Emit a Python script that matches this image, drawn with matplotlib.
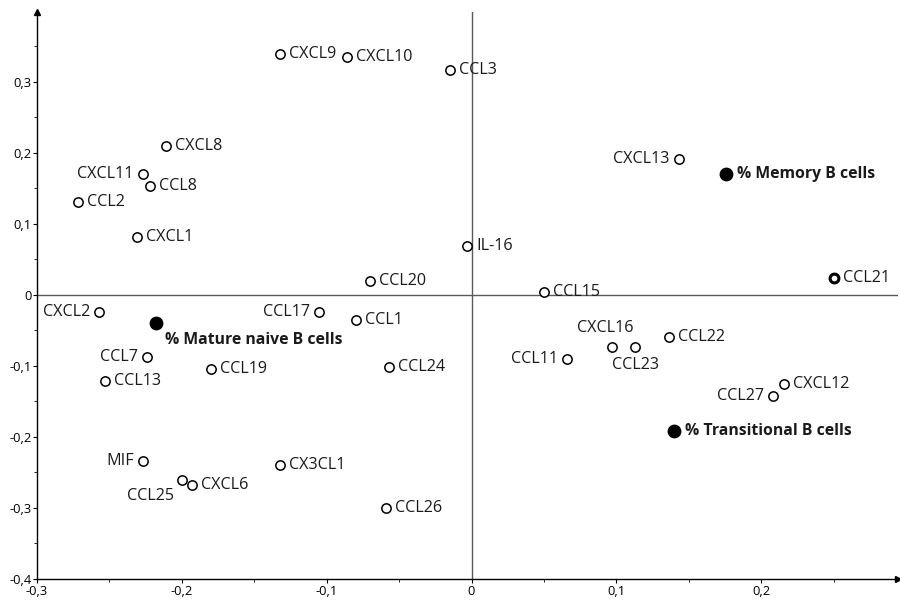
import numpy as np
import matplotlib
matplotlib.use("Agg")
import matplotlib.pyplot as plt
from matplotlib.ticker import MultipleLocator, FuncFormatter

plt.rcParams['font.family'] = ['Open Sans', 'DejaVu Sans']

# chemokines (open circles)
names = ['CXCL9', 'CXCL10', 'CCL3', 'CXCL8', 'CXCL11', 'CCL8', 'CCL2', 'CXCL1',
         'CCL20', 'IL-16', 'CXCL13', 'CCL21', 'CCL15', 'CXCL2', 'CCL17', 'CCL1',
         'CCL7', 'CCL13', 'CCL19', 'CCL24', 'CCL11', 'CXCL16', 'CCL23', 'CCL22',
         'CXCL12', 'CCL27', 'MIF', 'CCL25', 'CXCL6', 'CX3CL1', 'CCL26']
xs = [-0.132, -0.086, -0.015, -0.211, -0.227, -0.222, -0.272, -0.231,
      -0.070, -0.003, 0.143, 0.250, 0.050, -0.257, -0.105, -0.080,
      -0.224, -0.253, -0.180, -0.057, 0.066, 0.097, 0.113, 0.136,
      0.216, 0.208, -0.227, -0.200, -0.193, -0.132, -0.059]
ys = [0.339, 0.335, 0.316, 0.209, 0.170, 0.153, 0.131, 0.082,
      0.019, 0.069, 0.191, 0.023, 0.004, -0.024, -0.024, -0.036,
      -0.087, -0.122, -0.104, -0.101, -0.090, -0.073, -0.073, -0.060,
      -0.125, -0.143, -0.234, -0.261, -0.268, -0.240, -0.300]

# B cell populations (filled circles)
cell_names = ['% Memory B cells', '% Mature naive B cells', '% Transitional B cells']
cell_x = [0.176, -0.218, 0.140]
cell_y = [0.170, -0.039, -0.192]

# label placement: offset in pixels + alignment (default = right of the point)
place = {
    'CXCL11': (-9, 0, 'right', 'center'),
    'CXCL2': (-9, 0, 'right', 'center'),
    'CCL17': (-9, 0, 'right', 'center'),
    'CCL7': (-9, 0, 'right', 'center'),
    'MIF': (-9, 0, 'right', 'center'),
    'CXCL13': (-9, 0, 'right', 'center'),
    'CCL11': (-9, 0, 'right', 'center'),
    'CCL27': (-9, 0, 'right', 'center'),
    'CXCL16': (-7, 19, 'center', 'center'),
    'CCL23': (0, -18, 'center', 'center'),
    'CCL25': (-8, -16, 'right', 'center'),
    '% Mature naive B cells': (9, -17, 'left', 'center'),
}

fig = plt.figure(figsize=(9, 6), dpi=100)
ax = fig.add_axes([37 / 900, 21 / 600, 861 / 900, 567 / 600])

ax.set_xlim(-0.3, 0.2944)
ax.set_ylim(-0.4, 0.398)

# axes through the origin
ax.axhline(0, color='0.35', lw=1, zorder=1)
ax.axvline(0, color='0.35', lw=1, zorder=1)

ax.scatter(xs, ys, s=45, facecolor='white', edgecolor='black', linewidths=1.1, zorder=3)
# CCL21 drawn with a thicker ring
i21 = names.index('CCL21')
ax.scatter([xs[i21]], [ys[i21]], s=40, facecolor='white', edgecolor='black', linewidths=2.2, zorder=4)
ax.scatter(cell_x, cell_y, s=80, color='black', zorder=3)

for n, x, y in zip(names, xs, ys):
    dx, dy, ha, va = place.get(n, (9, 0, 'left', 'center'))
    ax.annotate(n, (x, y), xytext=(dx, dy), textcoords='offset pixels',
                ha=ha, va=va, fontsize=11.6, color='#1a1a1a')

for n, x, y in zip(cell_names, cell_x, cell_y):
    dx, dy, ha, va = place.get(n, (11, 0, 'left', 'center'))
    ax.annotate(n, (x, y), xytext=(dx, dy), textcoords='offset pixels',
                ha=ha, va=va, fontsize=11.3, fontweight='bold', color='#1a1a1a')

# spines: only left and bottom, with arrow heads
for s in ['top', 'right']:
    ax.spines[s].set_visible(False)
ax.spines['left'].set_linewidth(1)
ax.spines['bottom'].set_linewidth(1)
ax.plot(0, 1, '^k', ms=5, transform=ax.transAxes, clip_on=False)
ax.plot(1, 0, '>k', ms=5, transform=ax.transAxes, clip_on=False)

ax.xaxis.set_major_locator(MultipleLocator(0.1))
ax.xaxis.set_minor_locator(MultipleLocator(0.05))
ax.yaxis.set_major_locator(MultipleLocator(0.1))
ax.yaxis.set_minor_locator(MultipleLocator(0.05))


def virgula(v, pos):
    if abs(v) < 1e-9:
        return '0'
    return ('%.1f' % v).replace('.', ',')


ax.xaxis.set_major_formatter(FuncFormatter(virgula))
ax.yaxis.set_major_formatter(FuncFormatter(virgula))
ax.tick_params(which='major', length=3, labelsize=9.3, pad=1)
ax.tick_params(which='minor', length=2)

fig.savefig('out.png', dpi=100)
